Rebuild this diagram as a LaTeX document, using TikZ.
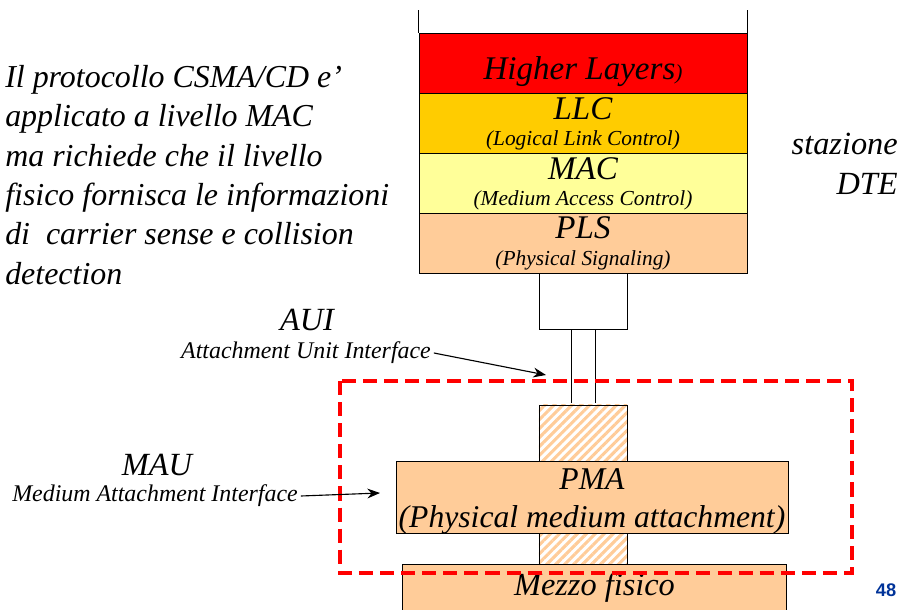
\documentclass[tikz,border=0pt]{standalone}
\usepackage{fontspec}
\setmainfont{Liberation Serif}
\newfontfamily\pagefont{Liberation Sans}
\usetikzlibrary{arrows.meta, patterns.meta, positioning}

\definecolor{hlred}{HTML}{FF0000}
\definecolor{llcgold}{HTML}{FFCC00}
\definecolor{macyellow}{HTML}{FFFF99}
\definecolor{plsorange}{HTML}{FFCC99}
\definecolor{pageblue}{HTML}{003399}

\newcommand{\layerbig}{\fontsize{23.5}{19}\selectfont}
\newcommand{\layersmall}{\fontsize{15.2}{19}\selectfont}

\begin{document}
\begin{tikzpicture}[x=0.025cm, y=-0.025cm,
    layer/.style={draw, rectangle, minimum width=8.2cm, minimum height=1.5cm, inner sep=0pt},
    laytxt/.style={align=center, inner sep=0pt, font=\fontsize{22}{19}\selectfont\itshape, yshift=-0.5pt},
    hatchbox/.style={draw, rectangle, minimum width=2.2cm, inner sep=0pt, pattern={Lines[angle=45, distance=4.5pt, line width=2.2pt]}, pattern color=plsorange},
    bigtxt/.style={font=\fontsize{23}{28}\selectfont\itshape, inner sep=1pt},
    smalltxt/.style={font=\fontsize{17}{18}\selectfont\itshape, inner sep=2pt},
    pointer/.style={-{Stealth[length=9pt, width=7pt]}, thick}]
    \useasboundingbox (0,0) rectangle (902,610);

    % station stack
    \node[layer, fill=hlred, label={[laytxt, yshift=-5.5pt]center:{\layerbig Higher Layers{\layersmall )}}}] (higher) at (583,63) {};
    \node[layer, fill=llcgold, label={[laytxt]center:{{\layerbig LLC}\\{\layersmall (Logical Link Control)}}}] (llc) at (583,123) {};
    \node[layer, fill=macyellow, label={[laytxt]center:{{\layerbig MAC}\\{\layersmall (Medium Access Control)}}}] (mac) at (583,183) {};
    \node[layer, fill=plsorange, label={[laytxt]center:{{\layerbig PLS}\\{\layersmall (Physical Signaling)}}}] (pls) at (583,243) {};
    \draw (higher.north west) -- ++(0,-23);
    \draw (higher.north east) -- ++(0,-23);

    % AUI cable
    \node[draw, rectangle, fill=white, minimum width=2.2cm, minimum height=1.4cm] (auibox) at (583,301) {};
    \node[hatchbox, minimum height=1.4cm] (hatchtop) at (583,433) {};
    \draw ([xshift=-0.3cm]auibox.south) -- ([xshift=-0.3cm]hatchtop.north);
    \draw ([xshift=0.3cm]auibox.south) -- ([xshift=0.3cm]hatchtop.north);

    % MAU
    \node[draw, rectangle, fill=plsorange, minimum width=9.8cm, minimum height=1.8cm, inner sep=0pt,
          label={[align=center, inner sep=0pt, font=\fontsize{22.5}{27}\selectfont\itshape, yshift=-3pt]center:{PMA\\(Physical medium attachment)}}] (pma) at (592,497) {};
    \node[hatchbox, minimum height=0.8cm] (hatchlow) at (583,549) {};

    % medium
    \node[rectangle, fill=plsorange, minimum width=9.575cm, minimum height=1.125cm, inner sep=0pt, font=\fontsize{23}{24}\selectfont\itshape] (mezzo) at (594.5,587.5) {\raisebox{-3pt}{Mezzo fisico}};
    \draw (mezzo.south west) -- (mezzo.north west) -- (mezzo.north east) -- (mezzo.south east);

    % MAU boundary
    \draw[hlred, line width=2.2pt, dash pattern=on 10pt off 5pt] (340,381) rectangle (852,573);

    % labels
    \node[bigtxt] (auibig) at (307,320) {AUI};
    \node[smalltxt] (auitxt) at (306,353) {Attachment Unit Interface};
    \coordinate (auitip) at (546,375);
    \draw[pointer] (auitxt.east) -- (auitip);

    \node[bigtxt] (maubig) at (157,465) {MAU};
    \node[smalltxt] (mautxt) at (155,496) {Medium Attachment Interface};
    \coordinate (mautip) at (380,493);
    \draw[pointer] (mautxt.east) -- (mautip);

    \node[bigtxt, font=\fontsize{22.7}{28}\selectfont\itshape, anchor=north west, align=left, inner sep=0pt] (note) at (5,65) {Il protocollo CSMA/CD e’\\applicato a livello MAC\\ma richiede che il livello\\fisico fornisca le informazioni\\di~ carrier sense e collision\\detection};
    \node[bigtxt, anchor=north east, align=right, inner sep=0pt] (dte) at (898,133) {stazione\\DTE};

    \node[font=\pagefont\bfseries\fontsize{13}{14}\selectfont, text=pageblue] (pagenum) at (886,590) {48};
\end{tikzpicture}
\end{document}
